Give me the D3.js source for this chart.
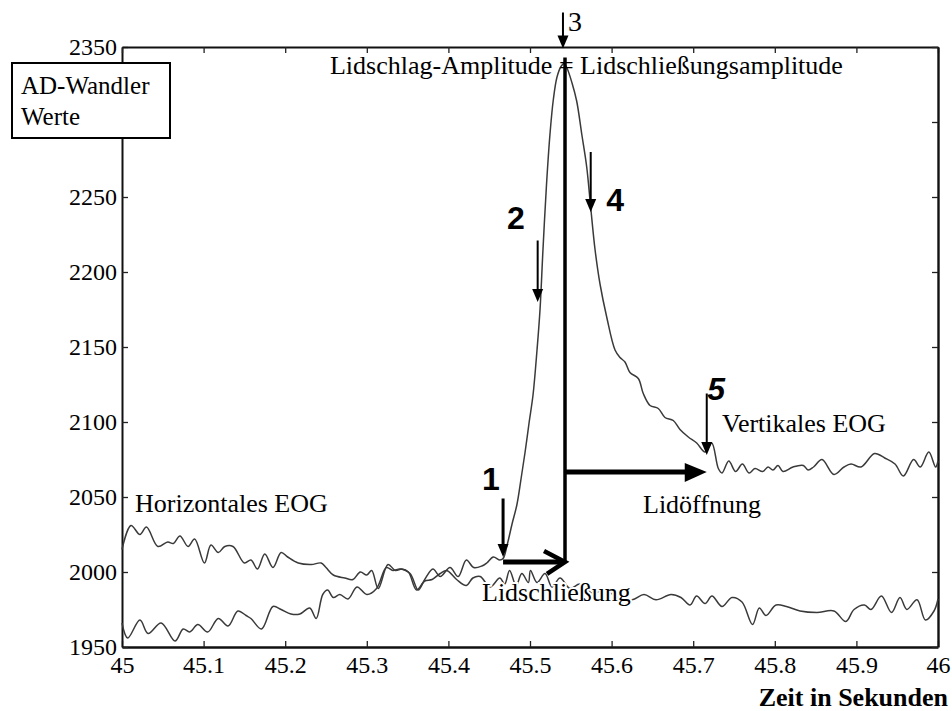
<!DOCTYPE html>
<html>
<head>
<meta charset="utf-8">
<script src="https://cdn.jsdelivr.net/npm/d3@7"></script>
<style>
  body { margin: 0; background: #fff; }
  text { font-family: "Liberation Serif", "DejaVu Serif", serif; fill: #000; }
</style>
</head>
<body>
<svg id="chart" width="952" height="711"></svg>
<script>
// Achsen
const xTicks = [45, 45.1, 45.2, 45.3, 45.4, 45.5, 45.6, 45.7, 45.8, 45.9, 46];
const yTicks = [1950, 2000, 2050, 2100, 2150, 2200, 2250, 2300, 2350];
// Wert 2300 liegt unter dem Kasten "AD-Wandler Werte" und bleibt ohne Beschriftung
const yTickLabels = ["1950", "2000", "2050", "2100", "2150", "2200", "2250", "", "2350"];

// Vertikales EOG: [Zeit in s, AD-Wert]
const vertikalesEOG = [
  [45.000, 1966], [45.007, 1956], [45.022, 1968], [45.032, 1959], [45.048, 1966],
  [45.065, 1954], [45.075, 1962], [45.083, 1960], [45.093, 1965], [45.105, 1960],
  [45.118, 1969], [45.130, 1964], [45.142, 1974], [45.152, 1971], [45.158, 1969],
  [45.171, 1962], [45.185, 1977], [45.195, 1975], [45.207, 1972], [45.218, 1972],
  [45.230, 1976], [45.238, 1969], [45.246, 1985], [45.252, 1988], [45.259, 1983],
  [45.267, 1985], [45.277, 1982], [45.288, 1990], [45.300, 1985], [45.312, 1989],
  [45.324, 2003], [45.332, 2001], [45.341, 2002], [45.353, 1999], [45.363, 1988],
  [45.371, 1995], [45.381, 2002], [45.390, 1997], [45.402, 2003], [45.412, 1997],
  [45.422, 2008], [45.431, 2003], [45.441, 2004], [45.447, 2006], [45.455, 2010],
  [45.463, 2008], [45.467, 2009], [45.472, 2018], [45.478, 2032], [45.484, 2045],
  [45.489, 2062], [45.494, 2080], [45.499, 2100], [45.5037, 2118], [45.5086, 2148],
  [45.5123, 2175], [45.5159, 2215], [45.5202, 2258], [45.5245, 2292], [45.5286, 2315],
  [45.5331, 2330], [45.5380, 2337], [45.5417, 2339], [45.5453, 2336], [45.5515, 2326],
  [45.5572, 2314], [45.5634, 2292], [45.5695, 2270], [45.5744, 2243], [45.5797, 2215],
  [45.5858, 2192], [45.5940, 2170], [45.6042, 2148], [45.6103, 2143], [45.6164, 2140],
  [45.6225, 2133], [45.6327, 2129], [45.6388, 2119], [45.6471, 2111], [45.6572, 2109],
  [45.6654, 2103], [45.6756, 2101], [45.6838, 2095], [45.6940, 2090], [45.7043, 2086],
  [45.7145, 2080], [45.7227, 2086], [45.7308, 2069], [45.7353, 2066], [45.7436, 2074],
  [45.7520, 2067], [45.7603, 2072], [45.7684, 2066], [45.7757, 2069], [45.7852, 2067],
  [45.7917, 2070], [45.7977, 2068], [45.8039, 2071], [45.8100, 2067], [45.8223, 2070],
  [45.8350, 2071], [45.8407, 2068], [45.8475, 2070], [45.8578, 2075], [45.8725, 2065],
  [45.8848, 2070], [45.8934, 2072], [45.9056, 2070], [45.9223, 2079], [45.9347, 2076],
  [45.9473, 2072], [45.9576, 2064], [45.9701, 2075], [45.9783, 2070], [45.9887, 2080],
  [45.9971, 2070], [46.000, 2074]
];

// Horizontales EOG: [Zeit in s, AD-Wert]
const horizontalesEOG = [
  [45.000, 2015], [45.011, 2031], [45.022, 2025], [45.030, 2030], [45.044, 2017],
  [45.056, 2020], [45.063, 2019], [45.071, 2024], [45.081, 2017], [45.089, 2022],
  [45.101, 2006], [45.109, 2018], [45.118, 2013], [45.126, 2017], [45.136, 2017],
  [45.150, 2006], [45.158, 2008], [45.166, 2002], [45.175, 2012], [45.185, 2003],
  [45.195, 2013], [45.203, 2010], [45.216, 2006], [45.232, 2005], [45.244, 2006],
  [45.250, 2003], [45.259, 1998], [45.273, 1996], [45.283, 1995], [45.292, 2000],
  [45.300, 1998], [45.306, 2001], [45.314, 1989], [45.326, 2005], [45.335, 2001],
  [45.343, 2002], [45.351, 2000], [45.361, 1988], [45.371, 1994], [45.380, 1995],
  [45.390, 1999], [45.398, 2001], [45.410, 1995], [45.422, 1991], [45.430, 1996],
  [45.439, 1997], [45.451, 1990], [45.463, 1996], [45.469, 1992], [45.475, 2001],
  [45.483, 1991], [45.490, 1999], [45.498, 1993], [45.5006, 2001], [45.5086, 1993],
  [45.5184, 1999], [45.5270, 1990], [45.5368, 1996], [45.5490, 1989], [45.5613, 1992],
  [45.5760, 1986], [45.5919, 1988], [45.6078, 1983], [45.6252, 1981.5], [45.6397, 1985],
  [45.6544, 1981.5], [45.6728, 1985], [45.6850, 1983], [45.6961, 1978], [45.7042, 1984],
  [45.7145, 1979], [45.7230, 1984], [45.7353, 1977], [45.7475, 1983], [45.7598, 1980],
  [45.7727, 1965], [45.7810, 1976], [45.7892, 1971], [45.8015, 1978], [45.8142, 1977],
  [45.8309, 1974], [45.8517, 1973], [45.8725, 1974], [45.8870, 1967], [45.8971, 1975],
  [45.9098, 1978], [45.9179, 1975], [45.9306, 1984], [45.9430, 1973], [45.9534, 1983],
  [45.9618, 1975], [45.9743, 1981.5], [45.9846, 1968], [45.9951, 1974], [46.000, 1982]
];

// Markierungspfeile 1-5 (Zeit, Pfeilanfang, Pfeilspitze als AD-Werte)
const markerNr    = ["1", "2", "3", "4", "5"];
const markerZeit  = [45.467, 45.5094, 45.5404, 45.5744, 45.7166];
const markerVon   = [2049, 2221, 2373, 2280, 2119];
const markerBis   = [2010, 2180, 2349, 2240, 2078];
const labelZeit   = [45.4522, 45.4828, 45.5466, 45.6042, 45.728];
const labelWert   = [2055, 2229, 2361, 2241, 2115];

// Lidschluss / Lidöffnung
const peakZeit = 45.5429;
const amplitudeVon = 2343, amplitudeBis = 2006.7;
const schluss = { von: 45.467, bis: 45.5429, wert: 2006.7 };
const oeffnung = { von: 45.5429, bis: 45.7166, wert: 2066.7 };

// Beschriftungen im Diagramm [Text, Zeit, AD-Wert]
const beschriftungen = [
  ["Horizontales EOG", 45.0159, 2040],
  ["Vertikales EOG", 45.7353, 2093.3],
  ["Lidöffnung", 45.6385, 2039.3],
  ["Lidschließung", 45.4412, 1980.7],
  ["Lidschlag-Amplitude = Lidschließungsamplitude", 45.2549, 2332]
];

const svg = d3.select("#chart");
const x = d3.scaleLinear().domain([45, 46]).range([122, 938]);
const y = d3.scaleLinear().domain([1950, 2350]).range([647, 47]);

const fmt = d => (d === 45 || d === 46) ? String(d) : d3.format(".1f")(d);
const yFmt = d => yTickLabels[yTicks.indexOf(d)];

// Achsen mit nach innen zeigenden Ticks
const gBottom = svg.append("g").attr("transform", `translate(0,${y(1950)})`)
  .call(d3.axisBottom(x).tickValues(xTicks).tickFormat(fmt).tickSizeInner(-6).tickSizeOuter(0).tickPadding(9));
const gLeft = svg.append("g").attr("transform", `translate(${x(45)},0)`)
  .call(d3.axisLeft(y).tickValues(yTicks).tickFormat(yFmt).tickSizeInner(-6).tickSizeOuter(0).tickPadding(5));
const gTop = svg.append("g").attr("transform", `translate(0,${y(2350)})`)
  .call(d3.axisTop(x).tickValues(xTicks).tickFormat("").tickSizeInner(-6).tickSizeOuter(0));
const gRight = svg.append("g").attr("transform", `translate(${x(46)},0)`)
  .call(d3.axisRight(y).tickValues(yTicks).tickFormat("").tickSizeInner(-6).tickSizeOuter(0));

[gBottom, gLeft, gTop, gRight].forEach(g => {
  g.selectAll("text").attr("font-family", "Liberation Serif").attr("font-size", 24).attr("fill", "#000");
  g.selectAll(".tick line").attr("stroke", "#222").attr("stroke-width", 1.3);
});
gBottom.select(".domain").attr("stroke", "#111").attr("stroke-width", 2.6);
gLeft.select(".domain").attr("stroke", "#111").attr("stroke-width", 2);
gTop.select(".domain").attr("stroke", "#111").attr("stroke-width", 2);
gRight.select(".domain").attr("stroke", "#111").attr("stroke-width", 2.4);
gBottom.selectAll("text").attr("dy", "0.72em");

// Kurven
const line = d3.line().x(d => x(d[0])).y(d => y(d[1])).curve(d3.curveCatmullRom.alpha(0.5));
svg.append("path").datum(horizontalesEOG).attr("d", line)
  .attr("fill", "none").attr("stroke", "#3a3a3a").attr("stroke-width", 1.5);
svg.append("path").datum(vertikalesEOG).attr("d", line)
  .attr("fill", "none").attr("stroke", "#3a3a3a").attr("stroke-width", 1.5);

// Amplitude (senkrechte Linie)
svg.append("line")
  .attr("x1", x(peakZeit)).attr("x2", x(peakZeit))
  .attr("y1", y(amplitudeVon)).attr("y2", y(amplitudeBis))
  .attr("stroke", "#000").attr("stroke-width", 3.5);

// Lidschließung: dicker Pfeil mit offener Spitze
svg.append("line")
  .attr("x1", x(schluss.von)).attr("x2", x(schluss.bis) - 2)
  .attr("y1", y(schluss.wert)).attr("y2", y(schluss.wert))
  .attr("stroke", "#000").attr("stroke-width", 5);
{
  const tx = x(schluss.bis), ty = y(schluss.wert);
  svg.append("path")
    .attr("d", `M${tx - 21},${ty - 11} L${tx},${ty} L${tx - 18},${ty + 12}`)
    .attr("fill", "none").attr("stroke", "#000").attr("stroke-width", 4.5)
    .attr("stroke-linejoin", "miter");
}

// Lidöffnung: dicker Pfeil mit gefüllter Spitze
{
  const tx = x(oeffnung.bis), ty = y(oeffnung.wert);
  svg.append("line")
    .attr("x1", x(oeffnung.von)).attr("x2", tx - 20)
    .attr("y1", ty).attr("y2", ty)
    .attr("stroke", "#000").attr("stroke-width", 5);
  svg.append("path")
    .attr("d", `M${tx},${ty} L${tx - 22},${ty - 9} L${tx - 22},${ty + 10} Z`)
    .attr("fill", "#000");
}

// Markierungspfeile 1-5
markerNr.forEach((nr, i) => {
  const px = x(markerZeit[i]);
  const y0 = y(markerVon[i]), y1 = y(markerBis[i]);
  svg.append("line")
    .attr("x1", px).attr("x2", px).attr("y1", y0).attr("y2", y1 - 10)
    .attr("stroke", "#000").attr("stroke-width", nr === "1" ? 3 : 2);
  svg.append("path")
    .attr("d", `M${px},${y1} L${px - 5.5},${y1 - 13} L${px + 5.5},${y1 - 13} Z`)
    .attr("fill", "#000");
  const t = svg.append("text")
    .attr("x", x(labelZeit[i])).attr("y", y(labelWert[i]))
    .text(nr);
  if (nr === "3") {
    t.attr("font-size", 28).attr("text-anchor", "start");
  } else {
    t.attr("font-weight", "bold")
     .attr("font-size", 32).attr("text-anchor", "middle")
     .style("font-family", "'Liberation Sans', Arial, sans-serif")
     .attr("font-style", nr === "5" ? "italic" : "normal");
  }
});

// Beschriftungen
beschriftungen.forEach(([txt, t, v]) => {
  const el = svg.append("text")
    .attr("x", x(t)).attr("y", y(v))
    .attr("font-size", 26).text(txt);
  if (txt === "Lidschließung") {
    el.attr("stroke", "#fff").attr("stroke-width", 4).attr("paint-order", "stroke");
  }
});

// Achsenbeschriftung Y (Kasten)
const box = svg.append("g");
box.append("rect").attr("x", 12).attr("y", 63).attr("width", 158).attr("height", 75)
  .attr("fill", "#fff").attr("stroke", "#000").attr("stroke-width", 2);
box.append("text").attr("x", 21).attr("y", 94).attr("font-size", 25).text("AD-Wandler");
box.append("text").attr("x", 21).attr("y", 125).attr("font-size", 25).text("Werte");

// Achsenbeschriftung X
svg.append("text").attr("x", 948).attr("y", 706).attr("text-anchor", "end")
  .attr("font-size", 26).attr("font-weight", "bold").text("Zeit in Sekunden");
</script>
</body>
</html>
